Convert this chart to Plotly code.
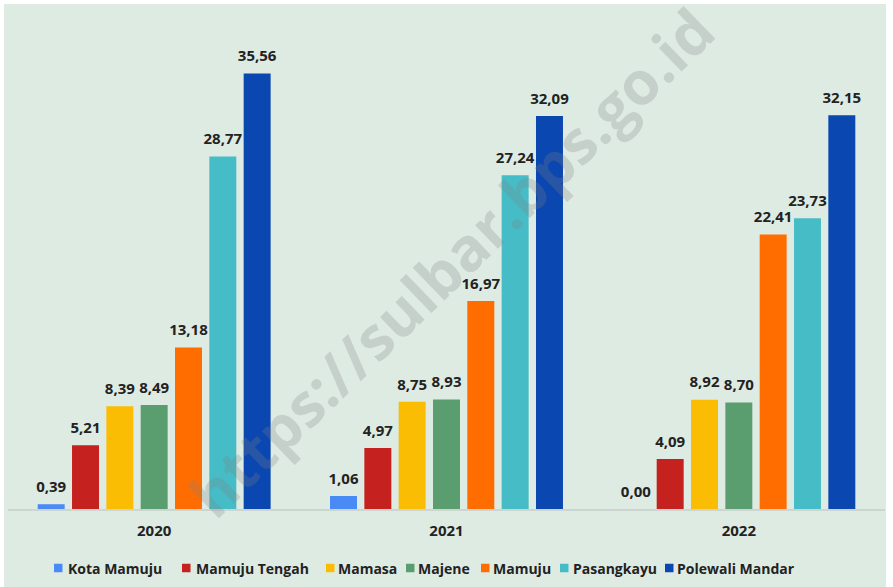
import plotly.graph_objects as go

years = ["2020", "2021", "2022"]
series_names = ["Kota Mamuju", "Mamuju Tengah", "Mamasa", "Majene", "Mamuju", "Pasangkayu", "Polewali Mandar"]
kota_mamuju = [0.39, 1.06, 0.00]
mamuju_tengah = [5.21, 4.97, 4.09]
mamasa = [8.39, 8.75, 8.92]
majene = [8.49, 8.93, 8.70]
mamuju = [13.18, 16.97, 22.41]
pasangkayu = [28.77, 27.24, 23.73]
polewali_mandar = [35.56, 32.09, 32.15]
colors = ["#4a8af4", "#c5221f", "#fbbc04", "#5a9e6f", "#ff6d01", "#46bdc6", "#0b47b0"]

series_values = [kota_mamuju, mamuju_tengah, mamasa, majene, mamuju, pasangkayu, polewali_mandar]

# legend layout (pixel positions)
legend_marker_x = [54, 182, 326, 406, 481, 560, 665]
legend_text_x = [67, 195, 337, 417, 492, 572, 676]
LEGEND_Y = 568
MARKER = 8.5

FONT = "Open Sans"
W, H = 893, 587
ML, MR, MT, MB = 8, 8, 19, 78
PW = W - ML - MR
PH = H - MT - MB


def px_x(p):
    return (p - ML) / PW


def px_y(p):
    return (MT + PH - p) / PH


fig = go.Figure()
for i, (name, vals, col) in enumerate(zip(series_names, series_values, colors)):
    fig.add_trace(go.Bar(
        name=name, x=years, y=vals, offsetgroup=f"g{i}",
        marker=dict(color=col, line=dict(width=0)),
        showlegend=False, cliponaxis=False,
    ))
for i, (name, vals, col) in enumerate(zip(series_names, series_values, colors)):
    fig.add_trace(go.Scatter(
        x=years, y=vals, offsetgroup=f"g{i}", mode="markers+text",
        marker=dict(size=12, opacity=0, color=col),
        text=[f"{v:.2f}".replace(".", ",") for v in vals],
        textposition="top center",
        textfont=dict(family=FONT, size=15, color="#222222", weight="bold"),
        showlegend=False, hoverinfo="skip", cliponaxis=False,
    ))

# legend (squares + labels)
for name, col, mx, tx in zip(series_names, colors, legend_marker_x, legend_text_x):
    fig.add_shape(type="rect", xref="paper", yref="paper",
                  x0=px_x(mx), x1=px_x(mx + MARKER),
                  y0=px_y(LEGEND_Y + MARKER / 2), y1=px_y(LEGEND_Y - MARKER / 2),
                  fillcolor=col, line=dict(width=0))
    fig.add_annotation(text=name, xref="paper", yref="paper",
                       x=px_x(tx), y=px_y(LEGEND_Y), xanchor="left", yanchor="middle",
                       showarrow=False, borderpad=0,
                       font=dict(family=FONT, size=14, color="#222222", weight="bold"))

fig.add_shape(type="rect", xref="paper", yref="paper",
              x0=px_x(4), x1=px_x(886), y0=px_y(587), y1=px_y(4),
              fillcolor="#deebe3", line=dict(width=0), layer="below")

fig.add_annotation(text="https://sulbar.bps.go.id", xref="paper", yref="paper",
                   x=0.505, y=0.505, showarrow=False, textangle=-44,
                   font=dict(family=FONT, size=60, color="rgba(128,128,128,0.25)", weight="bold"))

fig.update_layout(
    width=W, height=H,
    margin=dict(l=ML, r=MR, t=MT, b=MB, autoexpand=False),
    paper_bgcolor="white", plot_bgcolor="rgba(0,0,0,0)",
    barmode="group", bargap=0.178, bargroupgap=0.214,
    scattermode="group", scattergap=0.178,
    showlegend=False,
    font=dict(family=FONT),
)
fig.update_xaxes(showgrid=False, showline=True, linecolor="#cdd5d0", linewidth=1.5,
                 ticks="outside", ticklen=7, tickcolor="rgba(0,0,0,0)",
                 tickfont=dict(family=FONT, size=15, color="#222222", weight="bold"))
fig.update_yaxes(range=[0, 40], showgrid=False, showticklabels=False, zeroline=False, showline=False)

fig.write_html("out.html", config={"displayModeBar": False},
               post_script="document.body.style.margin='0px';")
